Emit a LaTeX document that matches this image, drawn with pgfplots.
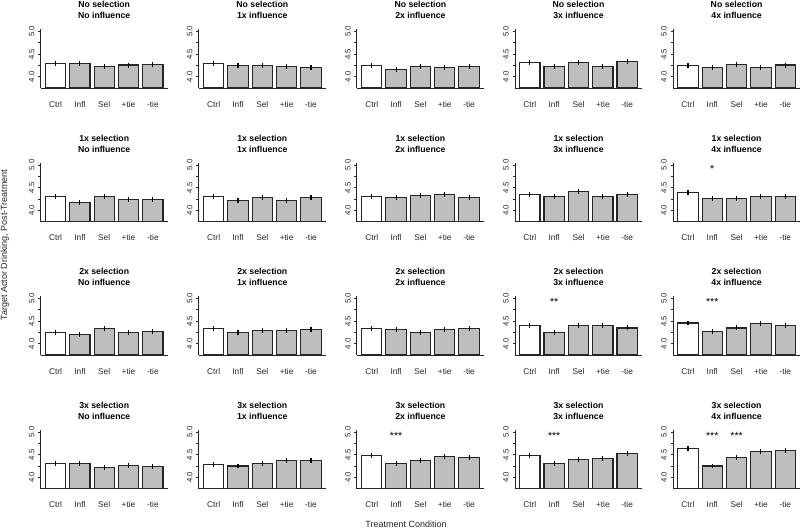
\documentclass[border=0pt]{standalone}
\usepackage{fontspec}
\setmainfont{Liberation Sans}
\usepackage{pgfplots}
\pgfplotsset{compat=1.18}
\definecolor{barg}{HTML}{BEBEBE}
\pgfplotsset{panel/.style={
  scale only axis, width=127pt, height=58.6pt,
  xmin=-0.032, xmax=6.232, ymin=3.752, ymax=5.048,
  axis lines*=left, axis line style={line width=0.9pt, black!85},
  clip mode=individual,
  xtick={0.7,1.9,3.1,4.3,5.5}, xticklabels={Ctrl,Infl,Sel,+tie,-tie},
  x tick style={draw=none},
  xticklabel style={font=\fontsize{8.3}{9}\selectfont, text=black!85, anchor=base, inner sep=0pt, yshift=-16.8pt},
  ytick={4,4.25,4.5,4.75,5}, yticklabels={4.0,,4.5,,5.0},
  y tick style={line width=0.9pt, black!85},
  yticklabel style={font=\fontsize{7.8}{9}\selectfont, text=black!85, rotate=90, anchor=south, inner sep=3.6pt},
  tick align=outside, major tick length=2.5pt,
  axis on top,
}}
\newcommand{\panel}[7]{%
\begin{axis}[panel, at={(#1pt,-#2pt)}, anchor=south west]
\addplot[ybar, bar shift=0pt, bar width=1, fill=white, draw=black!85, line width=1.1pt,
  error bars/.cd, y dir=both, y explicit, error mark=none, error bar style={line width=1.1pt, black}] coordinates {#5};
\addplot[ybar, bar shift=0pt, bar width=1, fill=barg, draw=black!85, line width=1.1pt,
  error bars/.cd, y dir=both, y explicit, error mark=none, error bar style={line width=1.1pt, black}] coordinates {#6};
\node[anchor=base, font=\bfseries\fontsize{8.7}{10}\selectfont, yshift=21.8pt] at (rel axis cs:0.5,1) {#3};
\node[anchor=base, font=\bfseries\fontsize{8.7}{10}\selectfont, yshift=10.8pt] at (rel axis cs:0.5,1) {#4};
#7
\end{axis}}
\newcommand{\stars}[2]{\node[anchor=base, font=\fontsize{10.5}{11}\selectfont] at (axis cs:#1,4.84) {#2};}
\begin{document}
\begin{tikzpicture}
\useasboundingbox (0,0) rectangle (800pt,-530pt);
% Row 1: No selection
\panel{40.7}{88}{No selection}{No influence}{(0.7,4.30) +- (0,0.055)}{(1.9,4.29) +- (0,0.055) (3.1,4.23) +- (0,0.055) (4.3,4.26) +- (0,0.055) (5.5,4.27) +- (0,0.055)}{}
\panel{198.8}{88}{No selection}{1x influence}{(0.7,4.30) +- (0,0.055)}{(1.9,4.25) +- (0,0.055) (3.1,4.25) +- (0,0.055) (4.3,4.23) +- (0,0.055) (5.5,4.20) +- (0,0.055)}{}
\panel{356.9}{88}{No selection}{2x influence}{(0.7,4.24) +- (0,0.055)}{(1.9,4.17) +- (0,0.055) (3.1,4.22) +- (0,0.055) (4.3,4.21) +- (0,0.055) (5.5,4.23) +- (0,0.055)}{}
\panel{515.0}{88}{No selection}{3x influence}{(0.7,4.32) +- (0,0.055)}{(1.9,4.22) +- (0,0.055) (3.1,4.31) +- (0,0.055) (4.3,4.23) +- (0,0.055) (5.5,4.33) +- (0,0.055)}{}
\panel{673.1}{88}{No selection}{4x influence}{(0.7,4.24) +- (0,0.055)}{(1.9,4.21) +- (0,0.055) (3.1,4.28) +- (0,0.055) (4.3,4.21) +- (0,0.055) (5.5,4.26) +- (0,0.055)}{}
% Row 2: 1x selection
\panel{40.7}{221.5}{1x selection}{No influence}{(0.7,4.30) +- (0,0.055)}{(1.9,4.18) +- (0,0.055) (3.1,4.30) +- (0,0.055) (4.3,4.23) +- (0,0.055) (5.5,4.23) +- (0,0.055)}{}
\panel{198.8}{221.5}{1x selection}{1x influence}{(0.7,4.30) +- (0,0.055)}{(1.9,4.22) +- (0,0.055) (3.1,4.28) +- (0,0.055) (4.3,4.22) +- (0,0.055) (5.5,4.28) +- (0,0.055)}{}
\panel{356.9}{221.5}{1x selection}{2x influence}{(0.7,4.30) +- (0,0.055)}{(1.9,4.29) +- (0,0.055) (3.1,4.33) +- (0,0.055) (4.3,4.34) +- (0,0.055) (5.5,4.28) +- (0,0.055)}{}
\panel{515.0}{221.5}{1x selection}{3x influence}{(0.7,4.34) +- (0,0.055)}{(1.9,4.31) +- (0,0.055) (3.1,4.41) +- (0,0.055) (4.3,4.30) +- (0,0.055) (5.5,4.34) +- (0,0.055)}{}
\panel{673.1}{221.5}{1x selection}{4x influence}{(0.7,4.39) +- (0,0.055)}{(1.9,4.26) +- (0,0.055) (3.1,4.27) +- (0,0.055) (4.3,4.31) +- (0,0.055) (5.5,4.31) +- (0,0.055)}{\stars{1.9}{*}}
% Row 3: 2x selection
\panel{40.7}{355}{2x selection}{No influence}{(0.7,4.24) +- (0,0.055)}{(1.9,4.21) +- (0,0.055) (3.1,4.34) +- (0,0.055) (4.3,4.24) +- (0,0.055) (5.5,4.27) +- (0,0.055)}{}
\panel{198.8}{355}{2x selection}{1x influence}{(0.7,4.33) +- (0,0.055)}{(1.9,4.24) +- (0,0.055) (3.1,4.29) +- (0,0.055) (4.3,4.29) +- (0,0.055) (5.5,4.31) +- (0,0.055)}{}
\panel{356.9}{355}{2x selection}{2x influence}{(0.7,4.33) +- (0,0.055)}{(1.9,4.32) +- (0,0.055) (3.1,4.25) +- (0,0.055) (4.3,4.32) +- (0,0.055) (5.5,4.33) +- (0,0.055)}{}
\panel{515.0}{355}{2x selection}{3x influence}{(0.7,4.41) +- (0,0.055)}{(1.9,4.24) +- (0,0.055) (3.1,4.40) +- (0,0.055) (4.3,4.40) +- (0,0.055) (5.5,4.35) +- (0,0.055)}{\stars{1.9}{**}}
\panel{673.1}{355}{2x selection}{4x influence}{(0.7,4.46) +- (0,0.055)}{(1.9,4.27) +- (0,0.055) (3.1,4.35) +- (0,0.055) (4.3,4.44) +- (0,0.055) (5.5,4.41) +- (0,0.055)}{\stars{1.9}{***}}
% Row 4: 3x selection
\panel{40.7}{488.5}{3x selection}{No influence}{(0.7,4.30) +- (0,0.055)}{(1.9,4.30) +- (0,0.055) (3.1,4.22) +- (0,0.055) (4.3,4.27) +- (0,0.055) (5.5,4.24) +- (0,0.055)}{}
\panel{198.8}{488.5}{3x selection}{1x influence}{(0.7,4.28) +- (0,0.055)}{(1.9,4.25) +- (0,0.055) (3.1,4.30) +- (0,0.055) (4.3,4.37) +- (0,0.055) (5.5,4.38) +- (0,0.055)}{}
\panel{356.9}{488.5}{3x selection}{2x influence}{(0.7,4.49) +- (0,0.055)}{(1.9,4.30) +- (0,0.055) (3.1,4.37) +- (0,0.055) (4.3,4.46) +- (0,0.055) (5.5,4.43) +- (0,0.055)}{\stars{1.9}{***}}
\panel{515.0}{488.5}{3x selection}{3x influence}{(0.7,4.49) +- (0,0.055)}{(1.9,4.31) +- (0,0.055) (3.1,4.40) +- (0,0.055) (4.3,4.42) +- (0,0.055) (5.5,4.53) +- (0,0.055)}{\stars{1.9}{***}}
\panel{673.1}{488.5}{3x selection}{4x influence}{(0.7,4.63) +- (0,0.055)}{(1.9,4.25) +- (0,0.055) (3.1,4.44) +- (0,0.055) (4.3,4.57) +- (0,0.055) (5.5,4.60) +- (0,0.055)}{\stars{1.9}{***}\stars{3.1}{***}}
% overall labels
\node[rotate=90, anchor=base, font=\fontsize{9}{10}\selectfont, text=black!85] at (7pt,-245pt) {Target Actor Drinking, Post-Treatment};
\node[anchor=base, font=\fontsize{9}{10}\selectfont, text=black!85] at (406pt,-527.5pt) {Treatment Condition};
\end{tikzpicture}
\end{document}
